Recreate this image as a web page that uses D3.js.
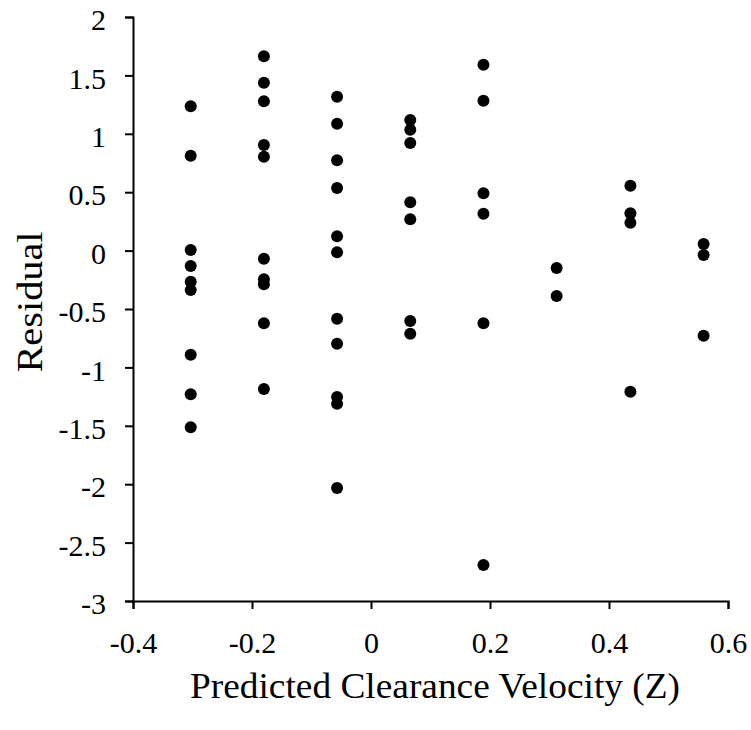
<!DOCTYPE html>
<html>
<head>
<meta charset="utf-8">
<script src="https://cdn.jsdelivr.net/npm/d3@7"></script>
<style>
  body { margin: 0; background: #fff; }
</style>
</head>
<body>
<div id="chart"></div>
<script>
'use strict';

var FONT = "'Liberation Serif', 'Times New Roman', Times, serif";

// predicted clearance velocity (Z) of each point, one value per point
var predicted = [
    -0.303, -0.303, -0.303, -0.303, -0.303, -0.303, -0.303, -0.303, -0.303,
    -0.180, -0.180, -0.180, -0.180, -0.180, -0.180, -0.180, -0.180, -0.180, -0.180,
    -0.057, -0.057, -0.057, -0.057, -0.057, -0.057, -0.057, -0.057, -0.057, -0.057, -0.057,
    0.066, 0.066, 0.066, 0.066, 0.066, 0.066, 0.066,
    0.189, 0.189, 0.189, 0.189, 0.189, 0.189,
    0.312, 0.312,
    0.436, 0.436, 0.436, 0.436,
    0.559, 0.559, 0.559
];

// residual of each point, same order
var residual = [
    1.235, 0.812, 0.005, -0.132, -0.266, -0.337, -0.891, -1.230, -1.513,
    1.664, 1.438, 1.278, 0.904, 0.804, -0.069, -0.246, -0.289, -0.622, -1.185,
    1.318, 1.087, 0.773, 0.536, 0.122, -0.015, -0.583, -0.797, -1.253, -1.311, -2.033,
    1.118, 1.035, 0.921, 0.413, 0.268, -0.602, -0.711,
    1.592, 1.283, 0.491, 0.316, -0.623, -2.692,
    -0.149, -0.389,
    0.556, 0.319, 0.238, -1.208,
    0.056, -0.038, -0.729
];

var xTicks = [-0.4, -0.2, 0, 0.2, 0.4, 0.6];
var yTicks = [2, 1.5, 1, 0.5, 0, -0.5, -1, -1.5, -2, -2.5, -3];

var labelX = 'Predicted Clearance Velocity (Z)';
var labelY = 'Residual';

var width = 751, height = 730;

var svg = d3.select('#chart').append('svg')
    .attr('width', width)
    .attr('height', height)
    .attr('font-family', FONT);

var xScale = d3.scaleLinear().domain([-0.4, 0.6]).range([133, 728]);
var yScale = d3.scaleLinear().domain([-3, 2]).range([601, 17]);

function styleAxis(g) {
    g.attr('font-family', FONT).attr('font-size', 30);
    g.selectAll('path.domain').attr('stroke', '#000').attr('stroke-width', 2);
    g.selectAll('.tick line').attr('stroke', '#000').attr('stroke-width', 2);
    g.selectAll('text').attr('fill', '#000');
}

svg.append('g')
    .attr('class', 'axis axis--x')
    .attr('transform', 'translate(0,' + yScale(-3) + ')')
    .call(d3.axisBottom(xScale)
        .tickValues(xTicks)
        .tickSize(8)
        .tickPadding(23)
        .tickFormat(function(d) { return String(d); }))
    .call(styleAxis);

svg.append('g')
    .attr('class', 'axis axis--y')
    .attr('transform', 'translate(' + xScale(-0.4) + ',0)')
    .call(d3.axisLeft(yScale)
        .tickValues(yTicks)
        .tickSize(8)
        .tickPadding(19)
        .tickFormat(function(d) { return String(d); }))
    .call(styleAxis)
    .call(function(g) { g.selectAll('text').attr('dy', '0.42em'); });

// points
svg.append('g')
    .selectAll('circle')
    .data(predicted)
    .enter().append('circle')
    .attr('cx', function(d) { return xScale(d); })
    .attr('cy', function(d, i) { return yScale(residual[i]); })
    .attr('r', 6)
    .attr('fill', '#000');

// axis labels
svg.append('text')
    .attr('x', 435)
    .attr('y', 698)
    .attr('text-anchor', 'middle')
    .attr('font-size', 35)
    .attr('textLength', 490)
    .attr('lengthAdjust', 'spacingAndGlyphs')
    .text(labelX);

svg.append('text')
    .attr('transform', 'translate(42,302) rotate(-90)')
    .attr('text-anchor', 'middle')
    .attr('font-size', 35)
    .attr('textLength', 141)
    .attr('lengthAdjust', 'spacingAndGlyphs')
    .text(labelY);
</script>
</body>
</html>
